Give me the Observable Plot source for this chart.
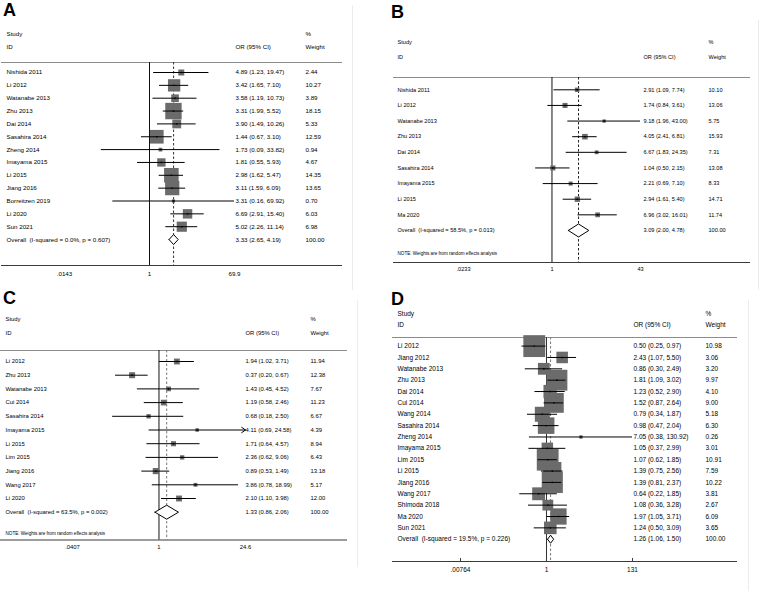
<!DOCTYPE html>
<html>
<head>
<meta charset="utf-8">
<script src="https://cdn.jsdelivr.net/npm/d3@7"></script>
<script src="https://cdn.jsdelivr.net/npm/@observablehq/plot@0.6"></script>
<style>
  html, body { margin:0; padding:0; background:#fff; }
  body { width:760px; height:591px; position:relative; overflow:hidden; font-family: Arial, "Liberation Sans", Helvetica, sans-serif; }
  .panel { position:absolute; }
  .panel svg { background: transparent !important; max-width: none !important; display:block; }
  .letter { position:absolute; font-weight:bold; font-size:18px; line-height:1; font-family: Arial, "Liberation Sans", sans-serif; color:#000; z-index:5; }
  .edge { position:absolute; width:1px; background:#ececec; z-index:1; }
</style>
</head>
<body>
<div class="panel" id="pA"></div>
<div class="panel" id="pB"></div>
<div class="panel" id="pC"></div>
<div class="panel" id="pD"></div>
<div class="letter" style="left:3px;top:1px">A</div>
<div class="letter" style="left:391px;top:3px">B</div>
<div class="letter" style="left:3px;top:289px">C</div>
<div class="letter" style="left:391px;top:290px">D</div>
<div class="edge" style="left:352px;top:5px;height:285px"></div>
<div class="edge" style="left:758px;top:20px;height:270px"></div>
<div class="edge" style="left:357px;top:300px;height:267px"></div>
<div class="edge" style="left:748px;top:300px;height:291px"></div>
<script>
// ---------- Panel A ----------
const studiesA = ["Nishida 2011","Li 2012","Watanabe 2013","Zhu 2013","Dai 2014","Sasahira 2014","Zheng 2014","Imayama 2015","Li 2015","Jiang 2016","Borreitzen 2019","Li 2020","Sun 2021"];
const orA = [4.89,3.42,3.58,3.31,3.90,1.44,1.73,1.81,2.98,3.11,3.31,6.69,5.02];
const loA = [1.23,1.65,1.19,1.99,1.49,0.67,0.09,0.55,1.62,1.59,0.16,2.91,2.26];
const hiA = [19.47,7.10,10.73,5.52,10.26,3.10,33.82,5.93,5.47,6.09,69.92,15.40,11.14];
const weightA = [2.44,10.27,3.89,18.15,5.33,12.59,0.94,4.67,14.35,13.65,0.70,6.03,6.98];
const overallA = [3.33, 2.65, 4.19];
const hetA = "Overall\u00a0 (I-squared = 0.0%, p = 0.607)";
const ticksA = [0.0143, 1, 69.9];
const tickLabelsA = [".0143", "1", "69.9"];
const arrowsA = [];

// ---------- Panel B ----------
const studiesB = ["Nishida 2011","Li 2012","Watanabe 2013","Zhu 2013","Dai 2014","Sasahira 2014","Imayama 2015","Li 2015","Ma 2020"];
const orB = [2.91,1.74,9.18,4.05,6.67,1.04,2.21,2.94,6.96];
const loB = [1.09,0.84,1.96,2.41,1.83,0.50,0.69,1.61,3.02];
const hiB = [7.74,3.61,43.00,6.81,24.35,2.15,7.10,5.40,16.01];
const weightB = [10.10,13.06,5.75,15.93,7.31,13.08,8.33,14.71,11.74];
const overallB = [3.09, 2.00, 4.78];
const hetB = "Overall\u00a0 (I-squared = 58.5%, p = 0.013)";
const ticksB = [0.0233, 1, 43];
const tickLabelsB = [".0233", "1", "43"];
const arrowsB = [];

// ---------- Panel C ----------
const studiesC = ["Li 2012","Zhu 2013","Watanabe 2013","Cui 2014","Sasahira 2014","Imayama 2015","Li 2015","Lim 2015","Jiang 2016","Wang 2017","Li 2020"];
const orC = [1.94,0.37,1.43,1.19,0.68,4.11,1.71,2.36,0.89,3.86,2.10];
const loC = [1.02,0.20,0.45,0.58,0.18,0.69,0.64,0.62,0.53,0.78,1.10];
const hiC = [3.71,0.67,4.52,2.46,2.50,24.58,4.57,9.06,1.49,18.99,3.98];
const weightC = [11.94,12.38,7.67,11.23,6.67,4.39,8.94,6.43,13.18,5.17,12.00];
const overallC = [1.33, 0.86, 2.06];
const hetC = "Overall\u00a0 (I-squared = 63.5%, p = 0.002)";
const ticksC = [0.0407, 1, 24.6];
const tickLabelsC = [".0407", "1", "24.6"];
const arrowsC = ["Imayama 2015"];

// ---------- Panel D ----------
const studiesD = ["Li 2012","Jiang 2012","Watanabe 2013","Zhu 2013","Dai 2014","Cui 2014","Wang 2014","Sasahira 2014","Zheng 2014","Imayama 2015","Lim 2015","Li 2015","Jiang 2016","Wang 2017","Shimoda 2018","Ma 2020","Sun 2021"];
const orD = [0.50,2.43,0.86,1.81,1.23,1.52,0.79,0.98,7.05,1.05,1.07,1.39,1.39,0.64,1.08,1.97,1.24];
const loD = [0.25,1.07,0.30,1.09,0.52,0.87,0.34,0.47,0.38,0.37,0.62,0.75,0.81,0.22,0.36,1.05,0.50];
const hiD = [0.97,5.50,2.49,3.02,2.90,2.64,1.87,2.04,130.92,2.99,1.85,2.56,2.37,1.85,3.28,3.71,3.09];
const weightD = [10.98,3.06,3.20,9.97,4.10,9.00,5.18,6.30,0.26,3.01,10.91,7.59,10.22,3.81,2.67,6.09,3.65];
const overallD = [1.26, 1.06, 1.50];
const hetD = "Overall\u00a0 (I-squared = 19.5%, p = 0.226)";
const ticksD = [0.00764, 1, 131];
const tickLabelsD = [".00764", "1", "131"];
const arrowsD = [];

const noteText = "NOTE: Weights are from random effects analysis";
const fmt = d3.format(".2f");
const FONT = 'Arial, "Liberation Sans", Helvetica, sans-serif';

function forest(id, cfg) {
  const n = cfg.studies.length;
  const rows = cfg.studies.map((s, i) => ({study: s, or: cfg.or[i], lo: cfg.lo[i], hi: cfg.hi[i], weight: cfg.weight[i], row: i}));
  const [oOR, oLo, oHi] = cfg.overall;
  const all = rows.concat([{study: cfg.het, or: oOR, lo: oLo, hi: oHi, weight: 100, row: n}]);
  const rowOf = py => (py - cfg.rowY0) / cfg.step;
  const tmin = cfg.ticks[0], tmax = cfg.ticks[cfg.ticks.length - 1];
  const L = cfg.ox, T = cfg.oy;
  const yTop = rowOf(cfg.topY), yAxis = rowOf(cfg.axisY);
  const plain = rows.filter(r => !cfg.arrows.includes(r.study));
  const clipped = rows.filter(r => cfg.arrows.includes(r.study));
  const dh = cfg.diaH / cfg.step;
  const diamond = [[oLo, n], [oOR, n - dh], [oHi, n], [oOR, n + dh], [oLo, n]];
  const colText = (data, text, px, opts = {}) => Plot.text(data, {
    y: "row", text, frameAnchor: "left", dx: px - cfg.lineX[0], textAnchor: "start",
    fontSize: cfg.fs, fill: "black", ...opts
  });
  const headers = [
    {row: rowOf(cfg.headY[0]), t: "Study", c: 0},
    {row: rowOf(cfg.headY[1]), t: "ID", c: 0},
    {row: rowOf(cfg.headY[1]), t: "OR (95% CI)", c: 1},
    {row: rowOf(cfg.headY[0]), t: "%", c: 2},
    {row: rowOf(cfg.headY[1]), t: "Weight", c: 2}
  ];
  const marks = [
    Plot.ruleY([yTop], {stroke: "#8c8c8c", strokeWidth: 1}),
    Plot.ruleY([yAxis], {stroke: "#3a3a3a", strokeWidth: 1}),
    Plot.ruleX([1], {y1: yTop, y2: yAxis, stroke: cfg.nullColor, strokeWidth: 1}),
    Plot.ruleX([oOR], {y1: yTop, y2: yAxis, stroke: cfg.dashColor, strokeDasharray: "2.5,2", strokeWidth: 1}),
    Plot.dot(rows, {x: "or", y: "row", r: "weight", symbol: "square", fill: "#6b6b6b"}),
    Plot.ruleY(plain, {y: "row", x1: "lo", x2: "hi", stroke: "black", strokeWidth: 1}),
    Plot.arrow(clipped, {x1: "lo", x2: () => tmax, y1: "row", y2: "row", stroke: "black", strokeWidth: 1, headLength: 7, headAngle: 70}),
    Plot.dot(rows, {x: "or", y: "row", r: 0.8, symbol: "square", fill: "black"}),
    Plot.line(diamond, {x: d => d[0], y: d => d[1], stroke: "black", fill: "white", strokeWidth: 1, strokeLinejoin: "miter"}),
    colText(headers.filter(h => h.c === 0), "t", cfg.cols[0]),
    colText(headers.filter(h => h.c === 1), "t", cfg.cols[1]),
    colText(headers.filter(h => h.c === 2), "t", cfg.cols[2]),
    colText(all, "study", cfg.cols[0]),
    colText(all, d => `${fmt(d.or)} (${fmt(d.lo)}, ${fmt(d.hi)})`, cfg.cols[1]),
    colText(all, d => fmt(d.weight), cfg.cols[2]),
    // tick labels of the log OR axis, placed through the x scale
    Plot.text(cfg.ticks, {x: d => d, y: rowOf(cfg.axisY + cfg.tickPad), text: (d, i) => cfg.tickLabels[i],
      lineAnchor: "top", textAnchor: "middle", fontSize: cfg.fs, fill: "black"})
  ];
  if (cfg.noteY != null) {
    marks.push(colText([{row: rowOf(cfg.noteY), t: noteText}], "t", cfg.cols[0], {fontSize: cfg.noteFs}));
  }
  if (cfg.tickUp) {
    marks.push(Plot.ruleX(cfg.ticks, {y1: yAxis, y2: yAxis - cfg.tickUp / cfg.step, stroke: "#3a3a3a", strokeWidth: 1}));
  }
  const chart = Plot.plot({
    width: cfg.w, height: cfg.h,
    marginTop: 0,
    marginLeft: cfg.lineX[0] - L,
    marginRight: L + cfg.w - cfg.lineX[1],
    marginBottom: T + cfg.h - cfg.axisY,
    style: {fontFamily: FONT, fontSize: cfg.fs + "px", background: "transparent", overflow: "visible"},
    x: {type: "log", domain: [tmin, tmax], range: [cfg.xr[0] - L, cfg.xr[1] - L], axis: null},
    y: {type: "linear", domain: [0, n], range: [cfg.rowY0 - T, cfg.rowY0 + n * cfg.step - T], axis: null},
    r: {type: "sqrt", domain: [0, 100], range: [0, cfg.k * 10 / Math.sqrt(Math.PI)]},
    marks
  });
  const el = document.getElementById(id);
  el.style.left = L + "px"; el.style.top = T + "px";
  el.style.width = cfg.w + "px"; el.style.height = cfg.h + "px";
  el.appendChild(chart);
}

forest("pA", {
  studies: studiesA, or: orA, lo: loA, hi: hiA, weight: weightA, overall: overallA, het: hetA,
  ticks: ticksA, tickLabels: tickLabelsA, arrows: arrowsA,
  ox: 0, oy: 20, w: 352, h: 270,
  rowY0: 72, step: 12.85, topY: 62, axisY: 265, lineX: [1, 342], xr: [64, 234],
  headY: [33.5, 47], cols: [6, 235, 305],
  fs: 6.2, k: 3.85, diaH: 5, tickPad: 6.5, nullColor: "#111", dashColor: "#333"
});

forest("pB", {
  studies: studiesB, or: orB, lo: loB, hi: hiB, weight: weightB, overall: overallB, het: hetB,
  ticks: ticksB, tickLabels: tickLabelsB, arrows: arrowsB,
  ox: 380, oy: 20, w: 378, h: 265,
  rowY0: 89.3, step: 15.63, topY: 77, axisY: 262, lineX: [393, 750], xr: [463, 640],
  headY: [42, 57], cols: [397, 643, 708],
  fs: 5.6, k: 1.4, diaH: 6.5, tickPad: 5, noteY: 253, noteFs: 4.6, nullColor: "#111", dashColor: "#222"
});

forest("pC", {
  studies: studiesC, or: orC, lo: loC, hi: hiC, weight: weightC, overall: overallC, het: hetC,
  ticks: ticksC, tickLabels: tickLabelsC, arrows: arrowsC,
  ox: 0, oy: 305, w: 357, h: 255,
  rowY0: 361, step: 13.7, topY: 350, axisY: 539.5, lineX: [0, 347], xr: [72, 245],
  headY: [319, 333], cols: [5, 245, 310],
  fs: 5.9, k: 1.7, diaH: 7, tickPad: 5, noteY: 533, noteFs: 4.6, nullColor: "#111", dashColor: "#777"
});

forest("pD", {
  studies: studiesD, or: orD, lo: loD, hi: hiD, weight: weightD, overall: overallD, het: hetD,
  ticks: ticksD, tickLabels: tickLabelsD, arrows: arrowsD,
  ox: 380, oy: 305, w: 368, h: 280,
  rowY0: 345.6, step: 11.36, topY: 337, axisY: 561, lineX: [392, 737], xr: [460, 632],
  headY: [313, 324], cols: [397, 633, 705],
  fs: 6.5, k: 6.6, diaH: 4, tickPad: 6, tickUp: 3, nullColor: "#333", dashColor: "#777"
});
</script>
</body>
</html>
